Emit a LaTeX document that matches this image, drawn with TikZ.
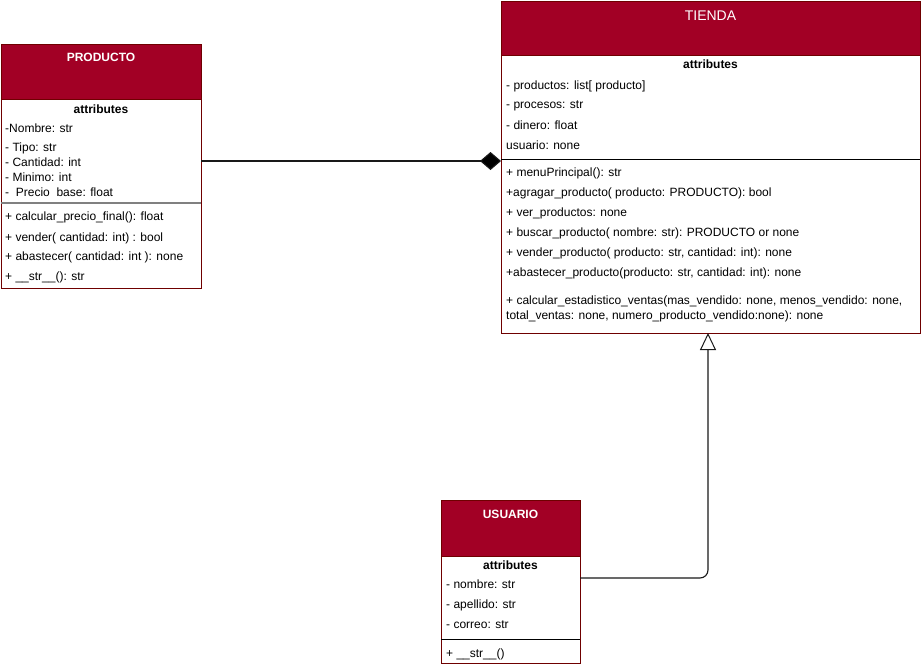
\documentclass[tikz,border=0pt]{standalone}
\usepackage{fontspec}
\setmainfont{Liberation Sans}
\usetikzlibrary{arrows.meta}
\definecolor{hdr}{HTML}{A20025}
\definecolor{hdrline}{HTML}{6F0000}
\begin{document}
\begin{tikzpicture}[x=1pt,y=-1pt,
  box/.style={draw=hdrline, line width=1pt, fill=white, anchor=north west, inner sep=0pt, outer sep=0pt},
  head/.style={draw=hdrline, line width=1pt, fill=hdr, anchor=north west, inner sep=0pt, outer sep=0pt},
  title/.style={text=white, font=\fontsize{12}{14}\selectfont\bfseries, inner sep=0pt, text height=10pt, text depth=2pt},
  sect/.style={font=\fontsize{12}{14}\selectfont\bfseries, inner sep=0pt, text height=10pt, text depth=2pt},
  txt/.style={font=\fontsize{12}{14}\selectfont, anchor=west, inner sep=0pt, align=left, text height=10pt, text depth=2pt},
  divider/.style={line width=1pt},
  conn/.style={line width=1.1pt, draw=black!90}
]
\useasboundingbox (0,0) rectangle (922,664);
% PRODUCTO
\node[box, minimum width=200pt, minimum height=244pt] (prod) at (1,44) {};
\node[head, minimum width=200pt, minimum height=55pt] (prodh) at (1,44) {};
\node[title] (prodt) at (101,57) {PRODUCTO};
\node[sect] (proda) at (101,109) {attributes};
\node[txt] (p1) at (5,128) {-Nombre: str};
\node[txt] (p2) at (5,147) {- Tipo: str};
\node[txt] (p3) at (5,162) {- Cantidad: int};
\node[txt] (p4) at (5,177) {- Minimo: int};
\node[txt] (p5) at (5,192) {-\ \ Precio\ \ base: float};
\draw[divider, draw=black!50, line width=1.5pt] (1,203) -- (201,203);
\node[txt] (p6) at (5,216) {+ calcular\_precio\_final(): float};
\node[txt] (p7) at (5,237) {+ vender( cantidad: int) : bool};
\node[txt] (p8) at (5,256) {+ abastecer( cantidad: int ): none};
\node[txt] (p9) at (5,276) {+ \_\_str\_\_(): str};
% TIENDA
\node[box, minimum width=419pt, minimum height=332pt] (tienda) at (501,1) {};
\node[head, minimum width=419pt, minimum height=54pt] (tiendah) at (501,1) {};
\node[title, font=\fontsize{14}{16}\selectfont] (tiendat) at (710.5,16) {TIENDA};
\node[sect] (tiendaa) at (710.5,64) {attributes};
\node[txt] (t1) at (506,85) {- productos: list[ producto]};
\node[txt] (t2) at (506,104) {- procesos: str};
\node[txt] (t3) at (506,125) {- dinero: float};
\node[txt] (t4) at (506,145) {usuario: none};
\draw[divider] (501,159) -- (920,159);
\node[txt] (t5) at (506,172) {+ menuPrincipal(): str};
\node[txt] (t6) at (506,192) {+agragar\_producto( producto: PRODUCTO): bool};
\node[txt] (t7) at (506,212) {+ ver\_productos: none};
\node[txt] (t8) at (506,232) {+ buscar\_producto( nombre: str): PRODUCTO or none};
\node[txt] (t9) at (506,252) {+ vender\_producto( producto: str, cantidad: int): none};
\node[txt] (t10) at (506,272) {+abastecer\_producto(producto: str, cantidad: int): none};
\node[txt] (t11) at (506,300) {+ calcular\_estadistico\_ventas(mas\_vendido: none, menos\_vendido: none,};
\node[txt] (t12) at (506,315) {total\_ventas: none, numero\_producto\_vendido:none): none};
% USUARIO
\node[box, minimum width=139pt, minimum height=163pt] (usr) at (441,500) {};
\node[head, minimum width=139pt, minimum height=56pt] (usrh) at (441,500) {};
\node[title] (usrt) at (510.5,514) {USUARIO};
\node[sect] (usra) at (510.5,565) {attributes};
\node[txt] (u1) at (446,584) {- nombre: str};
\node[txt] (u2) at (446,604) {- apellido: str};
\node[txt] (u3) at (446,624) {- correo: str};
\draw[divider] (441,639) -- (580,639);
\node[txt] (u4) at (446,653) {+ \_\_str\_\_()};
% connectors
\draw[conn, -{Diamond[length=21pt,width=18pt,fill=black]}] ([yshift=5pt]prod.east) -- ([yshift=6pt]tienda.west);
\draw[conn, rounded corners=8pt, -{Triangle[open,fill=white,length=17pt,width=16pt,line width=1pt]}] ([yshift=3.5pt]usr.east) -| ([xshift=-2.5pt]tienda.south);
\end{tikzpicture}
\end{document}
